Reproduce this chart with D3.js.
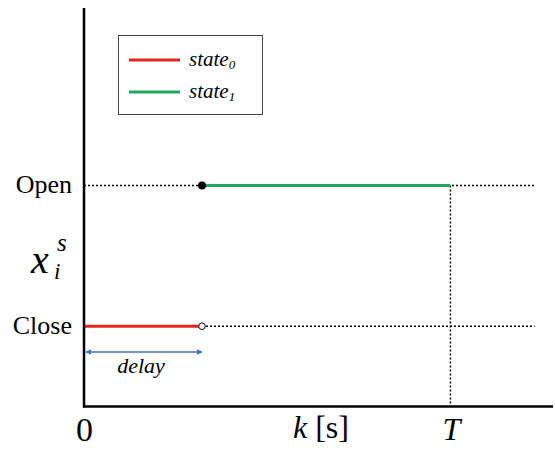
<!DOCTYPE html>
<html>
<head>
<meta charset="utf-8">
<script src="https://cdn.jsdelivr.net/npm/d3@7"></script>
<style>
  html, body { margin: 0; padding: 0; background: #fff; }
  svg { display: block; }
</style>
</head>
<body>
<svg id="chart" width="555" height="450"></svg>
<script>
// Time axis values (in units of the horizon T)
const xDomain = [0, 1.28];
const yDomain = [-0.57, 2.26];
const T = 1.0;
const delay = 0.322;
const guideEnd = 1.23;

// State levels and their labels
const stateLevels = [0, 1];
const stateLabels = ["Close", "Open"];

// Piecewise state trajectory segments
const segments = [
  { name: "state0", x0: 0, x1: delay, level: 0, color: "#e52421" },
  { name: "state1", x0: delay, x1: T, level: 1, color: "#1fa85a" }
];

// Legend entries
const legendNames = ["state", "state"];
const legendSubs = ["0", "1"];
const legendColors = ["#e52421", "#1fa85a"];

const svg = d3.select("#chart");
const x = d3.scaleLinear().domain(xDomain).range([84, 553]);
const y = d3.scaleLinear().domain(yDomain).range([406.5, 8]);

const serif = "'Liberation Serif', 'Times New Roman', serif";

// Dotted guides at each level and at T
svg.append("line")
  .attr("x1", x(0)).attr("x2", x(guideEnd))
  .attr("y1", y(1)).attr("y2", y(1))
  .attr("stroke", "#000").attr("stroke-width", 1.5).attr("stroke-dasharray", "2,2");
svg.append("line")
  .attr("x1", x(delay)).attr("x2", x(guideEnd))
  .attr("y1", y(0)).attr("y2", y(0))
  .attr("stroke", "#000").attr("stroke-width", 1.5).attr("stroke-dasharray", "2,2");
svg.append("line")
  .attr("x1", x(T)).attr("x2", x(T))
  .attr("y1", y(1)).attr("y2", y(yDomain[0]))
  .attr("stroke", "#000").attr("stroke-width", 1.5).attr("stroke-dasharray", "2,2");

// State segments
svg.selectAll("line.seg").data(segments).enter().append("line")
  .attr("class", "seg")
  .attr("x1", d => x(d.x0)).attr("x2", d => x(d.x1))
  .attr("y1", d => y(d.level)).attr("y2", d => y(d.level))
  .attr("stroke", d => d.color).attr("stroke-width", 3);

// Switch markers
svg.append("circle").attr("cx", x(delay)).attr("cy", y(1)).attr("r", 4).attr("fill", "#000");
svg.append("circle").attr("cx", x(delay)).attr("cy", y(0)).attr("r", 3.3)
  .attr("fill", "#fff").attr("stroke", "#000").attr("stroke-width", 1);

// Axes
svg.append("line")
  .attr("x1", x(0)).attr("x2", x(0)).attr("y1", y(yDomain[1])).attr("y2", y(yDomain[0]) + 1)
  .attr("stroke", "#000").attr("stroke-width", 2.5);
svg.append("line")
  .attr("x1", x(0) - 1).attr("x2", x(xDomain[1])).attr("y1", y(yDomain[0])).attr("y2", y(yDomain[0]))
  .attr("stroke", "#000").attr("stroke-width", 2.5);

// Level labels
svg.selectAll("text.level").data(stateLevels).enter().append("text")
  .attr("class", "level")
  .attr("x", 72).attr("y", d => y(d) + 8)
  .attr("text-anchor", "end")
  .attr("font-family", serif).attr("font-size", 26)
  .text((d, i) => stateLabels[i]);

// Y-axis symbol x_i^s, set as one text with stacked sub/superscript
const ysym = svg.append("text")
  .attr("font-family", serif).attr("font-style", "italic");
ysym.append("tspan").attr("x", 31).attr("y", 273).attr("font-size", 40).text("x");
ysym.append("tspan").attr("x", 54).attr("y", 279).attr("font-size", 23).text("i");
ysym.append("tspan").attr("x", 57).attr("y", 251).attr("font-size", 25).text("s");

// X-axis labels
svg.append("text").attr("x", x(0) + 0.5).attr("y", 441)
  .attr("text-anchor", "middle").attr("font-family", serif).attr("font-size", 34).text("0");
const kl = svg.append("text").attr("x", 293).attr("y", 438)
  .attr("font-family", serif).attr("font-size", 32);
kl.append("tspan").attr("font-style", "italic").text("k");
kl.append("tspan").text(" [s]");
svg.append("text").attr("x", x(T) + 1).attr("y", 440)
  .attr("text-anchor", "middle").attr("font-family", serif).attr("font-style", "italic")
  .attr("font-size", 32).text("T");

// Delay arrow
const blue = "#4472c4";
const defs = svg.append("defs");
["start", "end"].forEach(k => {
  defs.append("marker")
    .attr("id", "arrow-" + k)
    .attr("viewBox", "0 0 10 10").attr("refX", 9).attr("refY", 5)
    .attr("markerWidth", 4).attr("markerHeight", 4)
    .attr("orient", k === "start" ? "auto-start-reverse" : "auto")
    .append("path").attr("d", "M0,0 L10,5 L0,10 Z").attr("fill", blue);
});
svg.append("line")
  .attr("x1", x(0) + 2).attr("x2", x(delay))
  .attr("y1", 352).attr("y2", 352)
  .attr("stroke", blue).attr("stroke-width", 1.5)
  .attr("marker-start", "url(#arrow-start)").attr("marker-end", "url(#arrow-end)");
svg.append("text").attr("x", 141).attr("y", 373)
  .attr("text-anchor", "middle").attr("font-family", serif).attr("font-style", "italic")
  .attr("font-size", 22).text("delay");

// Legend
const lg = svg.append("g");
lg.append("rect").attr("x", 118.5).attr("y", 35.5).attr("width", 144).attr("height", 79)
  .attr("fill", "#fff").attr("stroke", "#444").attr("stroke-width", 1);
legendNames.forEach((n, i) => {
  const cy = 60 + i * 32;
  lg.append("line").attr("x1", 129).attr("x2", 180).attr("y1", cy).attr("y2", cy)
    .attr("stroke", legendColors[i]).attr("stroke-width", 3);
  const t = lg.append("text").attr("x", 189).attr("y", cy + 6)
    .attr("font-family", serif).attr("font-style", "italic").attr("font-size", 21);
  t.append("tspan").text(n);
  t.append("tspan").attr("dy", 3).attr("font-size", 13).text(legendSubs[i]);
});
</script>
</body>
</html>
